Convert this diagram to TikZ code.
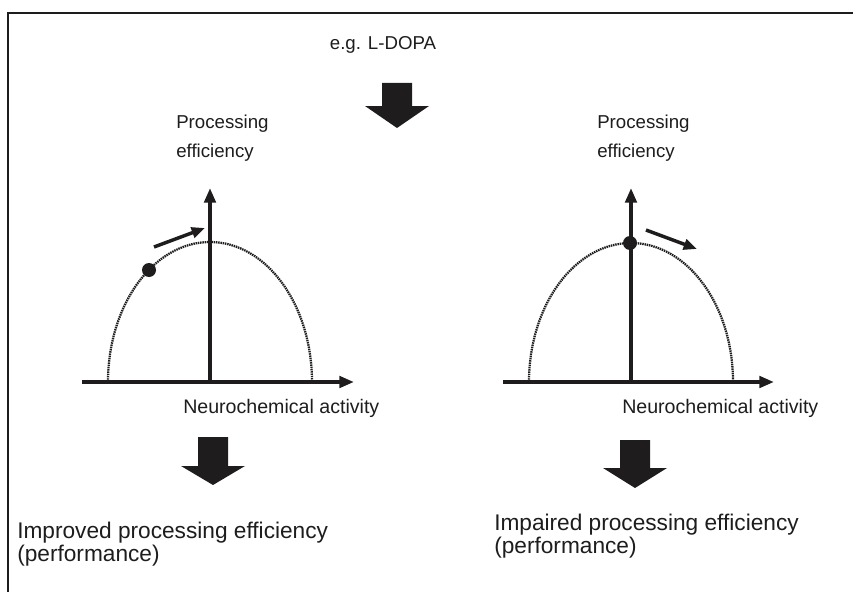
\documentclass[tikz,border=0pt]{standalone}
\usepackage{fontspec}
\setmainfont{Liberation Sans}
\usetikzlibrary{arrows.meta}
\definecolor{ink}{HTML}{1E1C1D}
% solid block arrow pointing down: centre x, top of shaft, base of head, tip
\newcommand\blockdown[4]{%
  \fill[ink] (#1-15,#2) -- (#1+15,#2) -- (#1+15,#3) -- (#1+32,#3)
    -- (#1,#4) -- (#1-32,#3) -- (#1-15,#3) -- cycle;}
\begin{document}
\begin{tikzpicture}[x=0.75pt,y=-0.75pt,
  axis/.style={draw=ink,line width=2.8pt,-{Triangle[length=11pt,width=8.5pt]}},
  move/.style={draw=ink,line width=2.6pt,-{Triangle[length=10pt,width=8pt]}},
  curve/.style={draw=ink,line width=1.7pt,dash pattern=on 1.1pt off 0.6pt},
  txt/.style={font=\fontsize{14}{18}\selectfont,inner sep=0pt,text=ink,align=left},
  ylab/.style={txt,font=\fontsize{14}{21.75}\selectfont},
  xlab/.style={txt,font=\fontsize{14.7}{18}\selectfont},
  result/.style={txt,font=\fontsize{17}{17.5}\selectfont},
  marker/.style={circle,fill=ink,minimum size=10.5pt,inner sep=0pt}]
\useasboundingbox (0,0) rectangle (853,592);

% frame
\draw[ink,line width=1.3pt] (8,600) -- (8,13) -- (870,13);

% top label and arrow
\node[txt] (dopa) at (383,45) {e.g. L-DOPA};
\blockdown{397}{83}{106}{128}

% ---- left panel ----
\coordinate (Lo) at (210,382);
\coordinate (Lx0) at (82,382);
\coordinate (Lx1) at (354,382);
\coordinate (Ly1) at (210,188);
\draw[curve] (108,382) arc[start angle=180,end angle=0,x radius=102,y radius=-140];
\draw[axis] (Lx0) -- (Lx1);
\draw[axis] (Lo) -- (Ly1);
\node[marker] (Ldot) at (149,270) {};
\coordinate (La0) at (154,247);
\coordinate (La1) at (205,228);
\draw[move] (La0) -- (La1);
\node[ylab,anchor=west] (Lylab) at (176,138) {Processing\\efficiency};
\node[xlab,anchor=west] (Lxlab) at (183,408) {Neurochemical activity};
\blockdown{213}{437}{466}{485}
\node[result,anchor=west] (Lres) at (17,544) {Improved processing efficiency\\(performance)};

% ---- right panel ----
\coordinate (Ro) at (631,382);
\coordinate (Rx0) at (503,382);
\coordinate (Rx1) at (774,382);
\coordinate (Ry1) at (631,188);
\draw[curve] (529,382) arc[start angle=180,end angle=0,x radius=102,y radius=-139];
\draw[axis] (Rx0) -- (Rx1);
\draw[axis] (Ro) -- (Ry1);
\node[marker] (Rdot) at (630,243) {};
\coordinate (Ra0) at (646,230);
\coordinate (Ra1) at (697,249);
\draw[move] (Ra0) -- (Ra1);
\node[ylab,anchor=west] (Rylab) at (597,138) {Processing\\efficiency};
\node[xlab,anchor=west] (Rxlab) at (622,408) {Neurochemical activity};
\blockdown{635}{440}{468}{488}
\node[result,anchor=west] (Rres) at (494,536) {Impaired processing efficiency\\(performance)};
\end{tikzpicture}
\end{document}
